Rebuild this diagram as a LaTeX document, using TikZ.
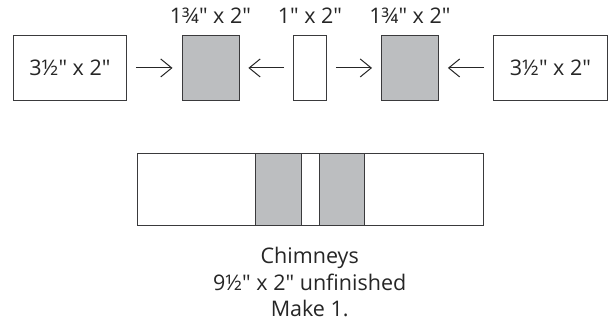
\documentclass[tikz,border=0pt]{standalone}
\usepackage{fontspec}
\setmainfont{Open Sans}[Ligatures=TeXOff]
\usetikzlibrary{arrows.meta}
\definecolor{patch}{HTML}{BCBEC0}
\definecolor{edge}{HTML}{3A3A3C}
\tikzset{
  piece/.style={draw=edge, line width=0.9pt, inner sep=0pt, anchor=north west},
  lbl/.style={font=\fontsize{21.5}{21.5}\selectfont, text=black!85, inner sep=0pt},
  conn/.style={draw=black!85, line width=1pt, -{Straight Barb[length=11pt,width=18pt,line width=1pt]}, shorten <=9pt, shorten >=9pt},
}
\begin{document}
\begin{tikzpicture}[x=1pt,y=-1pt]
\useasboundingbox (0,0) rectangle (613,327);
% top row
\node[piece, minimum width=113pt, minimum height=65pt] (a) at (13,35) {};
\node[piece, fill=patch, minimum width=57pt, minimum height=65pt] (b) at (181.5,35) {};
\node[piece, minimum width=33pt, minimum height=65pt] (c) at (293,35) {};
\node[piece, fill=patch, minimum width=57pt, minimum height=65pt] (d) at (381,35) {};
\node[piece, minimum width=114pt, minimum height=65pt] (e) at (493,35) {};
\node[lbl] (ta) at (a.center) {3½" x 2"};
\node[lbl] (te) at (e.center) {3½" x 2"};
\node[lbl, anchor=base] (tb) at ([yshift=12pt]b.north) {1¾" x 2"};
\node[lbl, anchor=base] (tc) at ([yshift=12pt]c.north) {1" x 2"};
\node[lbl, anchor=base] (td) at ([yshift=12pt]d.north) {1¾" x 2"};
\draw[conn] (a.east) -- (b.west);
\draw[conn] (c.west) -- (b.east);
\draw[conn] (c.east) -- (d.west);
\draw[conn] (e.west) -- (d.east);
% bottom strip
\node[piece, minimum width=118.5pt, minimum height=72.5pt] (s1) at (136.7,152.7) {};
\node[piece, fill=patch, minimum width=45.5pt, minimum height=72.5pt] (s2) at (255.2,152.7) {};
\node[piece, minimum width=18.3pt, minimum height=72.5pt] (s3) at (300.7,152.7) {};
\node[piece, fill=patch, minimum width=45.3pt, minimum height=72.5pt] (s4) at (319,152.7) {};
\node[piece, minimum width=118.4pt, minimum height=72.5pt] (s5) at (364.3,152.7) {};
\node[lbl, anchor=base] (l1) at (309.7,263.3) {Chimneys};
\node[lbl, anchor=base] (l2) at (309.7,290) {9½" x 2" unfinished};
\node[lbl, anchor=base] (l3) at (309.7,316.7) {Make 1.};
\end{tikzpicture}
\end{document}
